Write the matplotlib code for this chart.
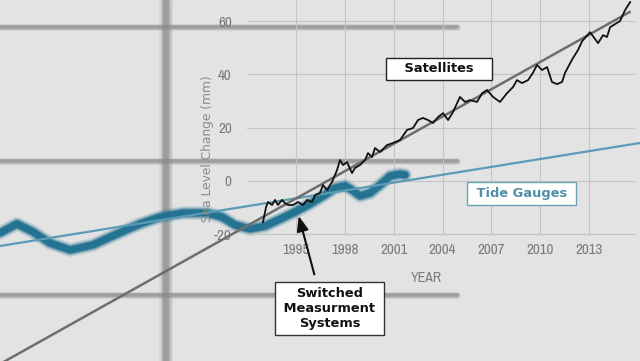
import matplotlib
matplotlib.use("Agg")
import matplotlib.pyplot as plt
import matplotlib.font_manager as fm

# ---------------- data ----------------
sat_years = [1992.97, 1993.16, 1993.28, 1993.53, 1993.71, 1993.89, 1994.14, 1994.32, 1994.51,
             1994.82, 1995.12, 1995.43, 1995.68, 1995.98, 1996.17, 1996.47, 1996.66, 1996.90,
             1997.21, 1997.52, 1997.70, 1997.89, 1998.13, 1998.44, 1998.62, 1998.93, 1999.24,
             1999.42, 1999.67, 1999.85, 2000.16, 2000.59, 2000.96, 2001.39, 2001.82, 2002.19,
             2002.49, 2002.80, 2003.11, 2003.42, 2003.72, 2004.03, 2004.34, 2004.64, 2005.07,
             2005.38, 2005.69, 2006.12, 2006.43, 2006.73, 2007.10, 2007.53, 2007.96, 2008.33,
             2008.57, 2008.88, 2009.25, 2009.55, 2009.80, 2010.11, 2010.42, 2010.72, 2011.03,
             2011.34, 2011.52, 2011.71, 2012.01, 2012.32, 2012.57, 2013.06, 2013.55, 2013.86,
             2014.10, 2014.29, 2014.90, 2015.21, 2015.52]
sat_values = [-15.5, -9.9, -8.0, -9.1, -7.2, -9.1, -7.2, -8.4, -9.1,
              -9.1, -8.0, -9.1, -7.2, -8.0, -5.4, -4.6, -1.6, -3.5,
              -0.5, 4.0, 7.8, 5.9, 7.0, 2.9, 4.8, 5.9, 7.8,
              10.4, 8.9, 12.3, 10.8, 13.4, 14.2, 15.3, 19.1, 19.8,
              22.8, 23.6, 22.8, 21.7, 23.9, 25.4, 22.8, 25.8, 31.5,
              29.6, 30.3, 29.6, 32.9, 34.1, 31.5, 29.6, 32.9, 35.2,
              37.8, 36.7, 37.8, 40.5, 43.5, 41.6, 42.7, 37.1, 36.3,
              37.1, 40.5, 42.7, 46.1, 49.1, 52.4, 55.8, 51.7, 54.7,
              54.0, 57.7, 60.0, 64.1, 67.1]

sat_trend_years = [1976.97, 2015.49]
sat_trend_values = [-68.3, 63.4]

tide_years = [1976.82, 1977.86, 1978.85, 1979.89, 1981.12, 1982.53, 1984.00, 1985.42,
              1986.65, 1988.06, 1989.53, 1990.45, 1991.25, 1992.17, 1993.10, 1994.02,
              1994.94, 1995.86, 1996.78, 1997.40, 1998.01, 1998.44, 1998.93, 1999.55,
              2000.16, 2000.77, 2001.39, 2001.70]
tide_values = [-19.6, -16.2, -19.2, -23.4, -26.0, -24.1, -20.0, -16.2,
               -13.6, -12.1, -12.1, -13.6, -16.6, -18.1, -17.0, -14.4,
               -11.7, -8.7, -5.3, -2.7, -1.9, -3.5, -5.7, -4.6,
               -1.6, 1.8, 2.5, 2.2]

tide_trend_years = [1976.82, 2016.13]
tide_trend_values = [-24.5, 14.2]

x_ticks = [1995, 1998, 2001, 2004, 2007, 2010, 2013]
y_ticks = [-20, 0, 20, 40, 60]

# decorative background bars (pixel space of the 640x361 image)
bg_vbars_x = [166]
bg_hbars_y = [27, 161, 295]
bg_hbar_xmax = 457

# ---- pick a narrow font if one is installed ----
narrow = None
for f in fm.fontManager.ttflist:
    n = f.name
    if "Narrow" in n or "Condensed" in n:
        narrow = dict(family=[n, "DejaVu Sans"])
        break
if narrow is None:
    for f in fm.fontManager.ttflist:
        if str(f.stretch) in ("condensed", "semi-condensed") and f.name == "DejaVu Sans":
            narrow = dict(family=["DejaVu Sans"], fontstretch="condensed")
            break
if narrow is None:
    narrow = dict(family=["Roboto", "DejaVu Sans"])

W, H = 640, 361
fig = plt.figure(figsize=(6.4, 3.61), dpi=100, facecolor="#e3e3e3")

# ---------- background decoration ----------
axbg = fig.add_axes([0, 0, 1, 1], zorder=0)
axbg.set_xlim(0, W)
axbg.set_ylim(H, 0)
axbg.axis("off")
for lw, a in [(10, 0.12), (8, 0.2), (6, 0.35), (4, 0.5)]:
    for x in bg_vbars_x:
        axbg.plot([x, x], [0, H], color="#8a8a8a", lw=lw, alpha=a, solid_capstyle="butt")
for lw, a in [(5, 0.15), (3.8, 0.3), (2.6, 0.6)]:
    for y in bg_hbars_y:
        axbg.plot([0, bg_hbar_xmax], [y, y], color="#8a8a8a", lw=lw, alpha=a,
                  solid_capstyle="round")

# ---------- main axes ----------
left, right, bottom_px = 247, 635, 234
ax = fig.add_axes([left / W, 1 - bottom_px / H, (right - left) / W, bottom_px / H], zorder=2)
ax.set_facecolor("none")
ax.set_xlim(1991.99, 2015.82)
ax.set_ylim(-20, 67.9)
for s in ["top", "right", "left"]:
    ax.spines[s].set_visible(False)
ax.spines["bottom"].set_color("#c4c4c4")
ax.spines["bottom"].set_linewidth(0.9)
ax.grid(True, color="#c4c4c4", lw=0.8)
ax.set_axisbelow(True)

tick_font = dict(size=10.8, color="#7a7a7a", **narrow)
ax.set_xticks(x_ticks)
ax.set_xticklabels([str(t) for t in x_ticks], **tick_font)
ax.set_yticks(y_ticks)
ax.set_yticklabels([str(t) for t in y_ticks], **tick_font)
ax.tick_params(axis="both", length=0)
ax.tick_params(axis="x", pad=6.5)
ax.tick_params(axis="y", pad=11)

# thick blurred tide gauge series
for lw, a in [(10, 0.15), (8, 0.25), (6.5, 0.45), (5, 0.9)]:
    ax.plot(tide_years, tide_values, color="#1f7090", lw=lw, alpha=a,
            solid_capstyle="round", solid_joinstyle="round", clip_on=False, zorder=2)

# trend lines
ax.plot(tide_trend_years, tide_trend_values, color="#5b9bb5", lw=1.6, clip_on=False, zorder=3)
ax.plot(sat_trend_years, sat_trend_values, color="#6e6e6e", lw=1.8, clip_on=False, zorder=3)

# satellite series
ax.plot(sat_years, sat_values, color="#111111", lw=1.3, clip_on=False, zorder=4)

# ---------- text ----------
fig.text(208 / W, 1 - 149 / H, "Sea Level Change (mm)", rotation=90, ha="center", va="center",
         fontsize=8.8, color="#8a8a8a")
fig.text(426 / W, 1 - 278 / H, "YEAR", ha="center", va="center",
         fontsize=10, color="#7a7a7a", **narrow)

box_font = dict(fontsize=9.4, fontweight="bold", ha="center", va="center", zorder=6)
ax.text(2003.78, 42.0, "   Satellites   ", color="#111111",
        bbox=dict(boxstyle="square,pad=0.35", fc="white", ec="#222222", lw=1.0), **box_font)
ax.text(2008.85, -4.8, " Tide Gauges ", color="#4f8ea5",
        bbox=dict(boxstyle="square,pad=0.35", fc="white", ec="#6aa3b8", lw=1.0), **box_font)
ax.text(1997.06, -48.0, "Switched\n Measurment \nSystems", color="#111111", linespacing=1.2,
        bbox=dict(boxstyle="square,pad=0.35", fc="white", ec="#333333", lw=1.0),
        clip_on=False, **box_font)
ax.annotate("", xy=(1995.12, -12.2), xytext=(1996.17, -36.2), annotation_clip=False,
            arrowprops=dict(arrowstyle="-|>,head_length=0.9,head_width=0.35",
                            color="#111111", lw=1.5), zorder=6)

fig.savefig("out.png", dpi=100, facecolor=fig.get_facecolor())
